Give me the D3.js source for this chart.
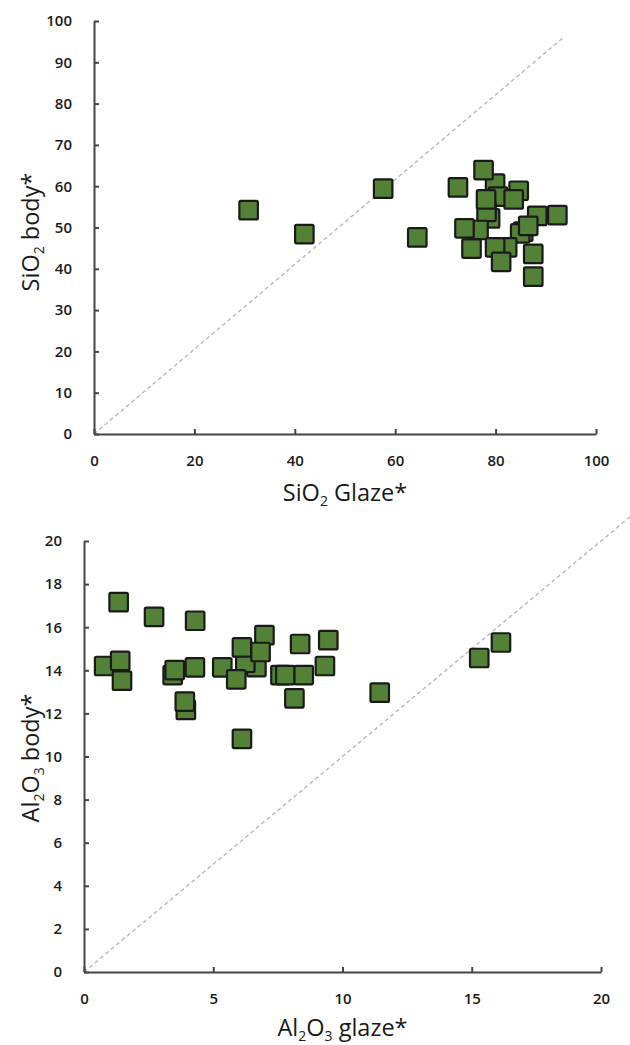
<!DOCTYPE html>
<html><head><meta charset="utf-8">
<script src="https://cdn.jsdelivr.net/npm/d3@7"></script>
<style>
html,body{margin:0;padding:0;background:#fff;}
svg text{font-family:"Open Sans","Noto Sans",sans-serif;}
</style></head>
<body><div id="chart"></div>
<script>
// ---- Top chart data (SiO2) ----
const sio2Glaze = [30.8,41.9,57.6,64.4,72.5,79.9,84.6,80.5,83.6,77.6,78.9,78.2,78.1,88.3,92.3,76.6,73.8,85.5,84.9,86.5,82.3,79.9,75.2,81.1,87.5,87.5];
const sio2Body  = [54.2,48.4,59.4,47.6,59.7,60.6,58.9,57.5,56.8,63.9,52.2,53.8,56.8,52.8,53.0,49.4,49.8,49.0,48.6,50.4,45.2,45.2,44.9,41.7,43.6,38.1];
const sio2XTicks = [0,20,40,60,80,100];
const sio2YTicks = [0,10,20,30,40,50,60,70,80,90,100];
const sio2Diag = [[0,0],[93.5,96]];

// ---- Bottom chart data (Al2O3) ----
const al2o3Glaze = [0.78,1.34,1.40,1.47,2.71,4.30,3.43,3.51,3.94,3.90,4.29,5.35,6.67,6.24,5.89,6.11,6.11,6.98,6.83,7.6,7.79,8.50,8.14,8.36,9.32,9.45,11.44,15.29,16.13];
const al2o3Body  = [14.2,17.16,14.44,13.52,16.48,16.30,13.78,14.01,12.16,12.55,14.14,14.14,14.15,14.35,13.58,15.06,10.82,15.63,14.85,13.78,13.78,13.78,12.70,15.22,14.20,15.40,12.96,14.57,15.29];
const al2o3XTicks = [0,5,10,15,20];
const al2o3YTicks = [0,2,4,6,8,10,12,14,16,18,20];
const al2o3Diag = [[0,0],[21.2,21.2]];

const W = 630, H = 1045;
const svg = d3.select("#chart").append("svg").attr("width", W).attr("height", H);
svg.append("rect").attr("width", W).attr("height", H).attr("fill", "#fff");

function panel(cfg) {
  const x = d3.scaleLinear().domain(cfg.xDomain).range([cfg.left, cfg.right]);
  const y = d3.scaleLinear().domain(cfg.yDomain).range([cfg.bottom, cfg.top]);
  const g = svg.append("g");

  g.append("line")
    .attr("x1", x(cfg.diag[0][0])).attr("y1", y(cfg.diag[0][1]))
    .attr("x2", x(cfg.diag[1][0])).attr("y2", y(cfg.diag[1][1]))
    .attr("stroke", "#b3b3b3").attr("stroke-width", 1.3).attr("stroke-dasharray", "4,3");

  const xa = g.append("g").attr("transform", `translate(0,${cfg.bottom})`)
    .call(d3.axisBottom(x).tickValues(cfg.xTicks).tickSizeInner(-5).tickSizeOuter(0).tickPadding(21));
  const ya = g.append("g").attr("transform", `translate(${cfg.left},0)`)
    .call(d3.axisLeft(y).tickValues(cfg.yTicks).tickSizeInner(-5).tickSizeOuter(0).tickPadding(22));
  [xa, ya].forEach(a => {
    a.select(".domain").attr("stroke", "#454545").attr("stroke-width", 2);
    a.selectAll(".tick line").attr("stroke", "#454545").attr("stroke-width", 2);
    a.selectAll(".tick text").attr("fill", "#1a1a1a").style("font-size", "15px").style("font-weight", "600");
  });

  const data = cfg.xs.map((v, i) => ({x: v, y: cfg.ys[i]}));
  const s = 18.5;
  g.append("g").selectAll("rect").data(data).join("rect")
    .attr("x", d => x(d.x) - s/2).attr("y", d => y(d.y) - s/2)
    .attr("width", s).attr("height", s).attr("rx", 1.5)
    .attr("fill", "#538135").attr("stroke", "#1a1a1a").attr("stroke-width", 2.2);

  const fs = "23.5px", sfs = "14px";
  const xt = svg.append("text").attr("x", (cfg.left + cfg.right)/2).attr("y", cfg.xTitleY)
    .attr("text-anchor", "middle").style("font-size", fs).attr("fill", "#1a1a1a");
  cfg.xTitle.forEach(p => xt.append("tspan").text(p.t)
    .style("font-size", p.sub ? sfs : fs).attr("dy", p.dy || 0));

  const yt = svg.append("text")
    .attr("transform", `translate(${cfg.yTitleX},${cfg.yTitleC}) rotate(-90)`)
    .attr("text-anchor", "middle").style("font-size", fs).attr("fill", "#1a1a1a");
  cfg.yTitle.forEach(p => yt.append("tspan").text(p.t)
    .style("font-size", p.sub ? sfs : fs).attr("dy", p.dy || 0));
}

panel({
  xDomain: [0, 100], yDomain: [0, 100],
  left: 94, right: 596, top: 21, bottom: 434,
  xTicks: sio2XTicks, yTicks: sio2YTicks, diag: sio2Diag,
  xs: sio2Glaze, ys: sio2Body,
  xTitleY: 501, yTitleX: 39, yTitleC: 232,
  xTitle: [{t: "SiO"}, {t: "2", sub: true, dy: 5}, {t: " Glaze*", dy: -5}],
  yTitle: [{t: "SiO"}, {t: "2", sub: true, dy: 5}, {t: " body*", dy: -5}]
});

panel({
  xDomain: [0, 20], yDomain: [0, 20],
  left: 84, right: 601, top: 541, bottom: 972,
  xTicks: al2o3XTicks, yTicks: al2o3YTicks, diag: al2o3Diag,
  xs: al2o3Glaze, ys: al2o3Body,
  xTitleY: 1036, yTitleX: 39, yTitleC: 758,
  xTitle: [{t: "Al"}, {t: "2", sub: true, dy: 5}, {t: "O", dy: -5}, {t: "3", sub: true, dy: 5}, {t: " glaze*", dy: -5}],
  yTitle: [{t: "Al"}, {t: "2", sub: true, dy: 5}, {t: "O", dy: -5}, {t: "3", sub: true, dy: 5}, {t: " body*", dy: -5}]
});
</script></body></html>
